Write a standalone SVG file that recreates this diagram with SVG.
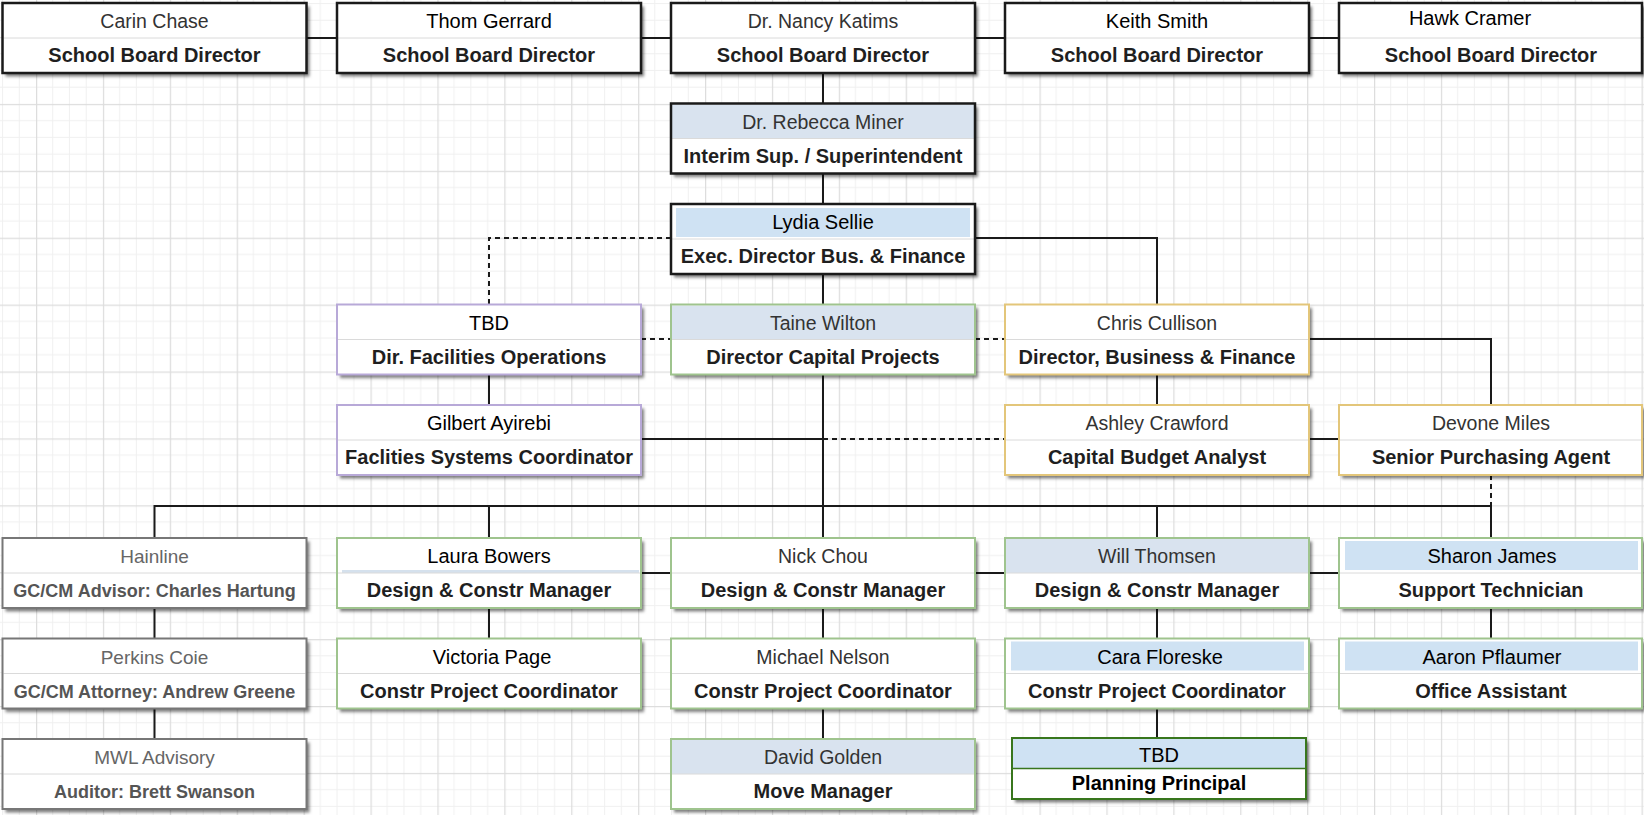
<svg xmlns="http://www.w3.org/2000/svg" width="1644" height="815" viewBox="0 0 1644 815">
<defs>
<pattern id="grid" width="66.9" height="66.9" patternUnits="userSpaceOnUse" x="36" y="37">
<path d="M16.7 0V66.9M33.45 0V66.9M50.2 0V66.9M0 16.7H66.9M0 33.45H66.9M0 50.2H66.9" stroke="#f0f0f0" stroke-width="1" fill="none"/>
<path d="M0.6 0V66.9M0 0.6H66.9" stroke="#dddddd" stroke-width="1.3" fill="none"/>
</pattern>
<filter id="sh" x="-5%" y="-10%" width="115%" height="130%">
<feDropShadow dx="3" dy="3.5" stdDeviation="1.8" flood-color="#000" flood-opacity="0.5"/>
</filter>
</defs>
<style>
.bg{fill:#fff;filter:url(#sh)}
.bd{fill:none;stroke-width:2}
.k{stroke:#1a1a1a;stroke-width:2.5}
.p{stroke:#b8a9d8}
.g{stroke:#9fc48e}
.y{stroke:#e3c67a}
.gr{stroke:#777}
.dg{stroke:#38761d}
.dv{stroke:#dadada;stroke-width:1}
.hd{fill:#d9e3ef}
.hi{fill:#cfe2f3}
.nm{font-family:"Liberation Sans",Arial,sans-serif;font-size:19.5px;fill:#333;text-anchor:middle}
.nk{fill:#000;font-size:20px}
.ng{fill:#666;font-size:19px}
.tt{font-family:"Liberation Sans",Arial,sans-serif;font-weight:bold;font-size:20px;fill:#1f1f1f;text-anchor:middle}
.tg{fill:#555;font-size:18px}
.c{stroke:#1a1a1a;stroke-width:2;fill:none}
.d{stroke-dasharray:5 4}
</style>
<rect width="1644" height="815" fill="#fff"/>
<rect width="1644" height="815" fill="url(#grid)"/>

<g id="connectors">
<path class="c" d="M306.5 38H337M641 38H671M975 38H1005M1309 38H1339"/>
<path class="c" d="M823 73V103.5M823 173.5V204M823 274V304.5"/>
<path class="c" d="M975 238H1157V304.5"/>
<path class="c d" d="M671 238H489V304.5"/>
<path class="c d" d="M641 339H671M975 339H1005"/>
<path class="c" d="M1309 339H1491V405"/>
<path class="c" d="M1157 374.5V405M489 374.5V405"/>
<path class="c" d="M641 439H823"/>
<path class="c d" d="M823 439H1005"/>
<path class="c" d="M1309 439H1339"/>
<path class="c d" d="M1491 475V506"/>
<path class="c" d="M823 374.5V538"/>
<path class="c" d="M154.5 538V506H1491V538M489 506V538M1157 506V538"/>
<path class="c" d="M641 573H671M975 573H1005M1309 573H1339"/>
<path class="c" d="M154.5 608V638.5M489 608V638.5M823 608V638.5M1157 608V638.5M1491 608V638.5"/>
<path class="c" d="M154.5 708.5V739M823 708.5V739M1157 708.5V738"/>
</g>

<g id="n-carin" transform="translate(2.5,3)">
<rect class="bg" width="304" height="70"/><line class="dv" x1="1" y1="35" x2="303" y2="35"/><rect class="bd k" width="304" height="70"/>
<text class="nm" x="152" y="25">Carin Chase</text><text class="tt" x="152" y="59">School Board Director</text>
</g>
<g id="n-thom" transform="translate(337,3)">
<rect class="bg" width="304" height="70"/><line class="dv" x1="1" y1="35" x2="303" y2="35"/><rect class="bd k" width="304" height="70"/>
<text class="nm nk" x="152" y="25">Thom Gerrard</text><text class="tt" x="152" y="59">School Board Director</text>
</g>
<g id="n-nancy" transform="translate(671,3)">
<rect class="bg" width="304" height="70"/><line class="dv" x1="1" y1="35" x2="303" y2="35"/><rect class="bd k" width="304" height="70"/>
<text class="nm" x="152" y="25">Dr. Nancy Katims</text><text class="tt" x="152" y="59">School Board Director</text>
</g>
<g id="n-keith" transform="translate(1005,3)">
<rect class="bg" width="304" height="70"/><line class="dv" x1="1" y1="35" x2="303" y2="35"/><rect class="bd k" width="304" height="70"/>
<text class="nm nk" x="152" y="25">Keith Smith</text><text class="tt" x="152" y="59">School Board Director</text>
</g>
<g id="n-hawk" transform="translate(1339,3)">
<rect class="bg" width="303" height="70"/><line class="dv" x1="1" y1="35" x2="302" y2="35"/><rect class="bd k" width="303" height="70"/>
<text class="nm nk" x="131" y="22">Hawk Cramer</text><text class="tt" x="152" y="59">School Board Director</text>
</g>

<g id="n-rebecca" transform="translate(671,103.5)">
<rect class="bg" width="304" height="70"/><rect class="hd" x="1" y="1" width="302" height="34"/><line class="dv" x1="1" y1="35" x2="303" y2="35"/><rect class="bd k" width="304" height="70"/>
<text class="nm" x="152" y="25">Dr. Rebecca Miner</text><text class="tt" x="152" y="59">Interim Sup. / Superintendent</text>
</g>
<g id="n-lydia" transform="translate(671,204)">
<rect class="bg" width="304" height="70"/><rect class="hi" x="5" y="4" width="294" height="29"/><line class="dv" x1="1" y1="35" x2="303" y2="35"/><rect class="bd k" width="304" height="70"/>
<text class="nm nk" x="152" y="25">Lydia Sellie</text><text class="tt" x="152" y="59">Exec. Director Bus. &amp; Finance</text>
</g>

<g id="n-tbd-fac" transform="translate(337,304.5)">
<rect class="bg" width="304" height="70"/><line class="dv" x1="1" y1="35" x2="303" y2="35"/><rect class="bd p" width="304" height="70"/>
<text class="nm nk" x="152" y="25">TBD</text><text class="tt" x="152" y="59">Dir. Facilities Operations</text>
</g>
<g id="n-taine" transform="translate(671,304.5)">
<rect class="bg" width="304" height="70"/><rect class="hd" x="1" y="1" width="302" height="34"/><line class="dv" x1="1" y1="35" x2="303" y2="35"/><rect class="bd g" width="304" height="70"/>
<text class="nm" x="152" y="25">Taine Wilton</text><text class="tt" x="152" y="59">Director Capital Projects</text>
</g>
<g id="n-chris" transform="translate(1005,304.5)">
<rect class="bg" width="304" height="70"/><line class="dv" x1="1" y1="35" x2="303" y2="35"/><rect class="bd y" width="304" height="70"/>
<text class="nm" x="152" y="25">Chris Cullison</text><text class="tt" x="152" y="59">Director, Business &amp; Finance</text>
</g>

<g id="n-gilbert" transform="translate(337,405)">
<rect class="bg" width="304" height="70"/><line class="dv" x1="1" y1="35" x2="303" y2="35"/><rect class="bd p" width="304" height="70"/>
<text class="nm nk" x="152" y="25">Gilbert Ayirebi</text><text class="tt" x="152" y="59">Faclities Systems Coordinator</text>
</g>
<g id="n-ashley" transform="translate(1005,405)">
<rect class="bg" width="304" height="70"/><line class="dv" x1="1" y1="35" x2="303" y2="35"/><rect class="bd y" width="304" height="70"/>
<text class="nm" x="152" y="25">Ashley Crawford</text><text class="tt" x="152" y="59">Capital Budget Analyst</text>
</g>
<g id="n-devone" transform="translate(1339,405)">
<rect class="bg" width="303" height="70"/><line class="dv" x1="1" y1="35" x2="302" y2="35"/><rect class="bd y" width="303" height="70"/>
<text class="nm" x="152" y="25">Devone Miles</text><text class="tt" x="152" y="59">Senior Purchasing Agent</text>
</g>

<g id="n-hainline" transform="translate(2.5,538)">
<rect class="bg" width="304" height="70"/><line class="dv" x1="1" y1="35" x2="303" y2="35"/><rect class="bd gr" width="304" height="70"/>
<text class="nm ng" x="152" y="25">Hainline</text><text class="tt tg" x="152" y="59">GC/CM Advisor: Charles Hartung</text>
</g>
<g id="n-laura" transform="translate(337,538)">
<rect class="bg" width="304" height="70"/><rect x="5" y="32" width="297" height="3" fill="#d5e1ed"/><line class="dv" x1="1" y1="35" x2="303" y2="35"/><rect class="bd g" width="304" height="70"/>
<text class="nm nk" x="152" y="25">Laura Bowers</text><text class="tt" x="152" y="59">Design &amp; Constr Manager</text>
</g>
<g id="n-nick" transform="translate(671,538)">
<rect class="bg" width="304" height="70"/><line class="dv" x1="1" y1="35" x2="303" y2="35"/><rect class="bd g" width="304" height="70"/>
<text class="nm" x="152" y="25">Nick Chou</text><text class="tt" x="152" y="59">Design &amp; Constr Manager</text>
</g>
<g id="n-will" transform="translate(1005,538)">
<rect class="bg" width="304" height="70"/><rect class="hd" x="1" y="1" width="302" height="34"/><line class="dv" x1="1" y1="35" x2="303" y2="35"/><rect class="bd g" width="304" height="70"/>
<text class="nm" x="152" y="25">Will Thomsen</text><text class="tt" x="152" y="59">Design &amp; Constr Manager</text>
</g>
<g id="n-sharon" transform="translate(1339,538)">
<rect class="bg" width="303" height="70"/><rect class="hi" x="6" y="3" width="293" height="29"/><line class="dv" x1="1" y1="35" x2="302" y2="35"/><rect class="bd g" width="303" height="70"/>
<text class="nm nk" x="153" y="25">Sharon James</text><text class="tt" x="152" y="59">Support Technician</text>
</g>

<g id="n-perkins" transform="translate(2.5,638.5)">
<rect class="bg" width="304" height="70"/><line class="dv" x1="1" y1="35" x2="303" y2="35"/><rect class="bd gr" width="304" height="70"/>
<text class="nm ng" x="152" y="25">Perkins Coie</text><text class="tt tg" x="152" y="59">GC/CM Attorney: Andrew Greene</text>
</g>
<g id="n-victoria" transform="translate(337,638.5)">
<rect class="bg" width="304" height="70"/><line class="dv" x1="1" y1="35" x2="303" y2="35"/><rect class="bd g" width="304" height="70"/>
<text class="nm nk" x="155" y="25">Victoria Page</text><text class="tt" x="152" y="59">Constr Project Coordinator</text>
</g>
<g id="n-michael" transform="translate(671,638.5)">
<rect class="bg" width="304" height="70"/><line class="dv" x1="1" y1="35" x2="303" y2="35"/><rect class="bd g" width="304" height="70"/>
<text class="nm" x="152" y="25">Michael Nelson</text><text class="tt" x="152" y="59">Constr Project Coordinator</text>
</g>
<g id="n-cara" transform="translate(1005,638.5)">
<rect class="bg" width="304" height="70"/><rect class="hi" x="6" y="3" width="293" height="29"/><line class="dv" x1="1" y1="35" x2="303" y2="35"/><rect class="bd g" width="304" height="70"/>
<text class="nm nk" x="155" y="25">Cara Floreske</text><text class="tt" x="152" y="59">Constr Project Coordinator</text>
</g>
<g id="n-aaron" transform="translate(1339,638.5)">
<rect class="bg" width="303" height="70"/><rect class="hi" x="6" y="3" width="293" height="29"/><line class="dv" x1="1" y1="35" x2="302" y2="35"/><rect class="bd g" width="303" height="70"/>
<text class="nm nk" x="153" y="25">Aaron Pflaumer</text><text class="tt" x="152" y="59">Office Assistant</text>
</g>

<g id="n-mwl" transform="translate(2.5,739)">
<rect class="bg" width="304" height="70"/><line class="dv" x1="1" y1="35" x2="303" y2="35"/><rect class="bd gr" width="304" height="70"/>
<text class="nm ng" x="152" y="25">MWL Advisory</text><text class="tt tg" x="152" y="59">Auditor: Brett Swanson</text>
</g>
<g id="n-david" transform="translate(671,739)">
<rect class="bg" width="304" height="70"/><rect class="hd" x="1" y="1" width="302" height="34"/><line class="dv" x1="1" y1="35" x2="303" y2="35"/><rect class="bd g" width="304" height="70"/>
<text class="nm" x="152" y="25">David Golden</text><text class="tt" x="152" y="59">Move Manager</text>
</g>
<g id="n-tbd-plan" transform="translate(1012,738)">
<rect class="bg" width="294" height="61"/><rect class="hi" x="1" y="1" width="292" height="29.5"/><line x1="1" y1="30.5" x2="293" y2="30.5" stroke="#38761d" stroke-width="1.5"/><rect class="bd dg" width="294" height="61"/>
<text class="nm nk" x="147" y="23.5">TBD</text><text class="tt" x="147" y="52" style="fill:#000">Planning Principal</text>
</g>
</svg>
